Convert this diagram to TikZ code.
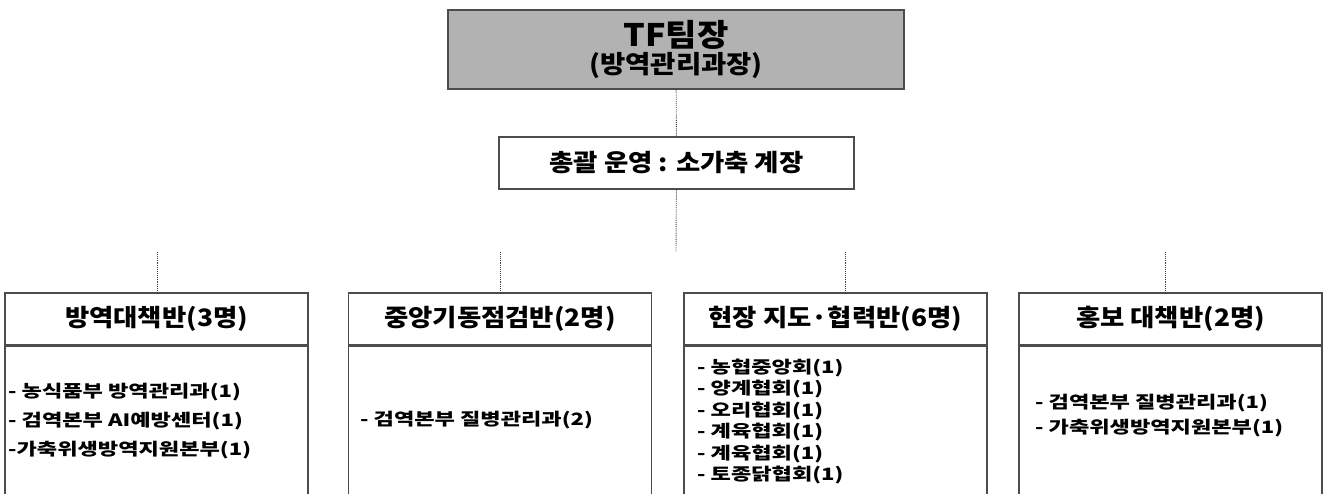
\documentclass[tikz,border=0pt]{standalone}
\usepackage{fontspec}
\setmainfont{Noto Sans CJK KR}[FakeStretch=1.1]
\newfontfamily\itemfont{Noto Sans CJK KR}[FakeStretch=1.3]
\usetikzlibrary{positioning}

\tikzset{
  box/.style={draw=black!70, line width=1.5pt, fill=white, inner sep=0pt, align=center, font=\bfseries},
  head/.style={box, minimum width=303pt, minimum height=52pt, font=\bfseries\fontsize{24}{28}\selectfont},
  body/.style={box, minimum width=303pt, minimum height=155pt},
  item/.style={anchor=west, align=left, inner sep=0pt, font=\itemfont\bfseries\fontsize{17}{#1}\selectfont},
  link/.style={draw=black!75, densely dotted, line width=0.9pt}
}

\begin{document}
\begin{tikzpicture}[x=1pt, y=-1pt]
\useasboundingbox (0,0) rectangle (1324,493);
\clip (0,0) rectangle (1324,493);

% top
\node (tf) [box, fill=black!30, minimum width=456pt, minimum height=79pt] at (676,49.5)
  {{\fontsize{31}{30}\selectfont TF팀장}\\[2pt]{\fontsize{25}{26}\selectfont(방역관리과장)}};
\node (gm) [box, minimum width=355pt, minimum height=52pt, font=\bfseries\fontsize{24}{28}\selectfont] at (676.5,163)
  {총괄 운영 : 소가축 계장};
\coordinate (hub) at (676,252);

% teams
\node (h1) [head] at (156.5,319) {방역대책반(3명)};
\node (h2) [head] at (500,319) {중앙기동점검반(2명)};
\node (h3) [head] at (835.5,319) {현장 지도·협력반(6명)};
\node (h4) [head] at (1170.5,319) {홍보 대책반(2명)};
\node (p1) [body, below=0pt of h1] {};
\node (p2) [body, below=0pt of h2] {};
\node (p3) [body, below=0pt of h3] {};
\node (p4) [body, below=0pt of h4] {};

\coordinate (s1) at (157,252);
\coordinate (s2) at (500,252);
\coordinate (s3) at (845,252);
\coordinate (s4) at (1165,252);

% members
\node (m1) [item=29pt] at (8,421) {- 농식품부 방역관리과(1)\\- 검역본부 AI예방센터(1)\\-가축위생방역지원본부(1)};
\node (m2) [item=22pt] at (360,420) {- 검역본부 질병관리과(2)};
\node (m3) [item=21.4pt] at (697,421.5) {- 농협중앙회(1)\\- 양계협회(1)\\- 오리협회(1)\\- 계육협회(1)\\- 계육협회(1)\\- 토종닭협회(1)};
\node (m4) [item=25pt] at (1035,415.5) {- 검역본부 질병관리과(1)\\- 가축위생방역지원본부(1)};

% links
\draw[link] (tf) -- (gm);
\draw[link] (gm) -- (hub);
\draw[link] (s1) -- (s1 |- h1.north);
\draw[link] (s2) -- (s2 |- h2.north);
\draw[link] (s3) -- (s3 |- h3.north);
\draw[link] (s4) -- (s4 |- h4.north);
\end{tikzpicture}
\end{document}
